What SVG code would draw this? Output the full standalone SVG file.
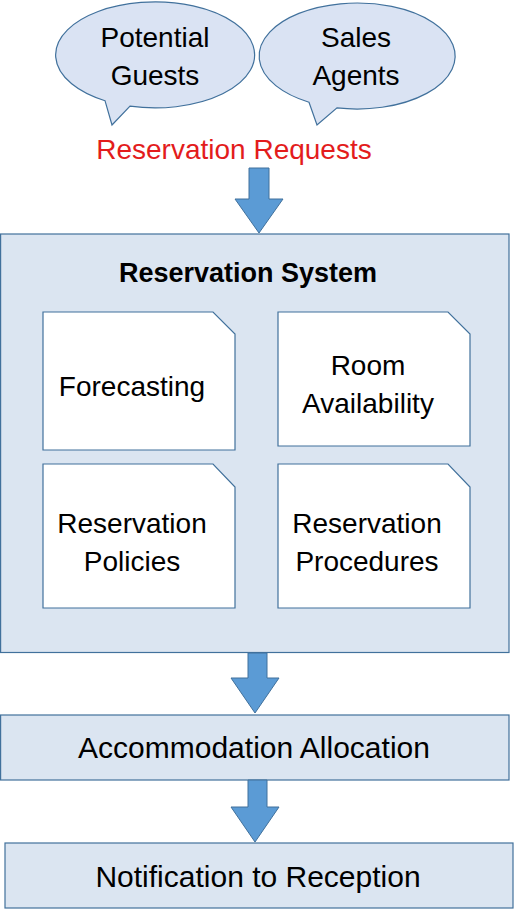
<svg xmlns="http://www.w3.org/2000/svg" width="514" height="911" viewBox="0 0 514 911">
<style>
.t{font-family:"Liberation Sans",Arial,sans-serif;font-size:28px;fill:#000;text-anchor:middle}
.big{font-size:30px}
.bub{fill:#dae3f3;stroke:#41719c;stroke-width:1.2}
.box{fill:#dbe5f1;stroke:#41719c;stroke-width:1.2}
.card{fill:#fff;stroke:#41719c;stroke-width:1.2}
.arr{fill:#5b9bd5;stroke:#41719c;stroke-width:1}
</style>
<rect width="514" height="911" fill="#fff"/>
<g id="potential-guests">
<path class="bub" d="M105,100.7 A99.5,53 0 1 1 130,106.2 L112,125 Z"/>
<text class="t" x="155" y="47">Potential</text>
<text class="t" x="155" y="85">Guests</text>
</g>
<g id="sales-agents">
<path class="bub" d="M309,102.2 A98,53 0 1 1 337,107.9 L317,125 Z"/>
<text class="t" x="356" y="47">Sales</text>
<text class="t" x="356" y="85">Agents</text>
</g>
<g id="label-requests">
<text class="t" x="234" y="159" style="fill:#e31c1c">Reservation Requests</text>
</g>
<g id="reservation-system">
<rect class="box" x="0.6" y="234" width="508.4" height="418.5"/>
<text class="t" x="248" y="282" style="font-weight:bold;font-size:27px">Reservation System</text>
</g>
<g id="forecasting">
<path class="card" d="M43,312 H213 L235,334 V450 H43 Z"/>
<text class="t" x="132" y="396">Forecasting</text>
</g>
<g id="room-availability">
<path class="card" d="M278,312 H448 L470,334 V446 H278 Z"/>
<text class="t" x="368" y="375">Room</text>
<text class="t" x="368" y="413">Availability</text>
</g>
<g id="reservation-policies">
<path class="card" d="M43,464 H213 L235,487 V608 H43 Z"/>
<text class="t" x="132" y="533">Reservation</text>
<text class="t" x="132" y="571">Policies</text>
</g>
<g id="reservation-procedures">
<path class="card" d="M278,464 H448 L470,487 V608 H278 Z"/>
<text class="t" x="367" y="533">Reservation</text>
<text class="t" x="367" y="571">Procedures</text>
</g>
<g id="accommodation-allocation">
<rect class="box" x="0.6" y="715" width="508.4" height="65"/>
<text class="t big" x="254" y="758">Accommodation Allocation</text>
</g>
<g id="notification-to-reception">
<rect class="box" x="5" y="843" width="508" height="65"/>
<text class="t big" x="258" y="887">Notification to Reception</text>
</g>
<g id="connectors">
<path class="arr" d="M249,168 H269 V199 H283 L259,233 L235,199 H249 Z"/>
<path class="arr" d="M248,653 H267 V678 H279 L255,713 L231,678 H248 Z"/>
<path class="arr" d="M248,780 H267 V807 H279 L255,842 L231,807 H248 Z"/>
</g>
</svg>
